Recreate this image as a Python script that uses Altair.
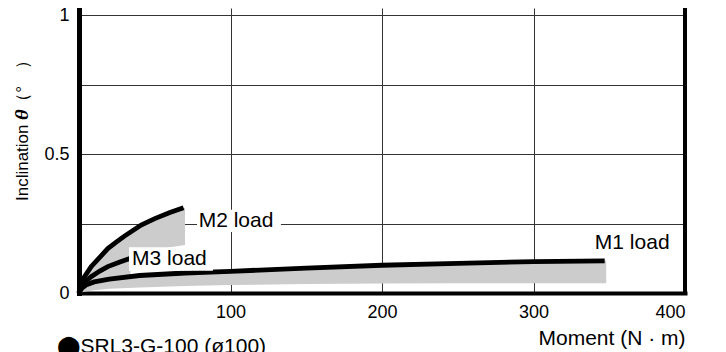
import altair as alt
import pandas as pd

# ---- data ----
m1_x = [0, 2, 5, 10, 20, 40, 70, 100, 150, 200, 250, 300, 347]
m1_y = [0, 0.018, 0.030, 0.040, 0.050, 0.063, 0.072, 0.078, 0.090, 0.100, 0.107, 0.113, 0.116]

m2_x = [0, 1, 3, 8, 14, 19, 25, 30, 41, 50, 60, 69]
m2_y = [0, 0.030, 0.053, 0.095, 0.130, 0.160, 0.185, 0.205, 0.245, 0.268, 0.290, 0.307]

m3_x = [0, 1, 3, 8, 14, 19, 27, 34]
m3_y = [0, 0.020, 0.035, 0.059, 0.080, 0.095, 0.112, 0.125]

band1_x = [0, 5, 10, 20, 40, 70, 100, 150, 200, 250, 300, 348]
band1_hi = [0, 0.030, 0.040, 0.050, 0.063, 0.072, 0.078, 0.090, 0.100, 0.107, 0.113, 0.116]
band1_lo = [0, 0.006, 0.010, 0.015, 0.020, 0.025, 0.029, 0.032, 0.034, 0.035, 0.035, 0.035]

band2_x = [0, 3, 8, 19, 30, 41, 55, 70]
band2_hi = [0, 0.053, 0.095, 0.160, 0.205, 0.245, 0.280, 0.307]
band2_lo = [0, 0.030, 0.055, 0.090, 0.115, 0.140, 0.160, 0.173]

band3_x = [0, 3, 8, 19, 27, 34]
band3_hi = [0, 0.035, 0.059, 0.095, 0.112, 0.125]
band3_lo = [0, 0.020, 0.030, 0.045, 0.052, 0.058]

label_text = ["M1 load", "M2 load", "M3 load"]
label_x = [340.5, 79.0, 35.0]
label_y = [0.180, 0.259, 0.124]
box_x0 = [None, 77.9, 33.0]
box_x1 = [None, 133.3, 88.4]
box_y0 = [None, 0.220, 0.080]
box_y1 = [None, 0.300, 0.165]

x_ticks = [100, 200, 300, 400]
y_ticks = [0, 0.25, 0.5, 0.75, 1]

x_title = "Moment (N · m)"
y_title = "Inclination 𝜽（°　）"
caption = "⬤SRL3-G-100 (ø100)"

# ---- tables ----
lines = pd.concat([
    pd.DataFrame({"series": "M1", "x": m1_x, "y": m1_y}),
    pd.DataFrame({"series": "M2", "x": m2_x, "y": m2_y}),
    pd.DataFrame({"series": "M3", "x": m3_x, "y": m3_y}),
])
bands = pd.concat([
    pd.DataFrame({"series": "M1", "x": band1_x, "lo": band1_lo, "hi": band1_hi}),
    pd.DataFrame({"series": "M2", "x": band2_x, "lo": band2_lo, "hi": band2_hi}),
    pd.DataFrame({"series": "M3", "x": band3_x, "lo": band3_lo, "hi": band3_hi}),
])
labels = pd.DataFrame({"text": label_text, "x": label_x, "y": label_y,
                       "x0": box_x0, "x1": box_x1, "y0": box_y0, "y1": box_y1})
boxes = labels.dropna()

W, H = 606, 285
FONT = "Liberation Sans"

xscale = alt.Scale(domain=[0, 400], nice=False, zero=True)
yscale = alt.Scale(domain=[0, 1.027], nice=False, zero=True)

xaxis = alt.Axis(values=x_ticks, grid=True, gridColor="#333333", gridWidth=1,
                 domainWidth=4, domainColor="black", domainCap="square",
                 ticks=False, tickSize=0, labelFontSize=18, labelPadding=10,
                 labelColor="black", labelFont=FONT, format="d",
                 title=x_title, titleFont=FONT, titleFontSize=21, titleFontWeight="normal",
                 titleColor="black", titleX=W, titleY=45, titleAlign="right",
                 titleBaseline="middle")
yaxis = alt.Axis(values=y_ticks, grid=True, gridColor="#333333", gridWidth=1,
                 domainWidth=5, domainColor="black", domainCap="square",
                 ticks=False, tickSize=0, labelFontSize=18, labelPadding=10,
                 labelColor="black", labelFont=FONT,
                 labelExpr="datum.value == 0 ? '0' : datum.value == 0.5 ? '0.5' : datum.value == 1 ? '1' : ''",
                 title=y_title, titleFont="Liberation Sans, DejaVu Sans", titleFontSize=17,
                 titleFontWeight="normal",
                 titleColor="black", titleX=-57, titleY=118, titleAngle=270,
                 titleAlign="center", titleBaseline="middle")

area = alt.Chart(bands).mark_area(color="#cccccc", opacity=1).encode(
    x=alt.X("x:Q", scale=xscale, axis=xaxis),
    y=alt.Y("lo:Q", scale=yscale, axis=yaxis),
    y2="hi:Q",
    detail="series:N",
)
line = alt.Chart(lines).mark_line(color="black", strokeWidth=4.8).encode(
    x=alt.X("x:Q", scale=xscale, axis=xaxis),
    y=alt.Y("y:Q", scale=yscale, axis=yaxis),
    detail="series:N",
)
box = alt.Chart(boxes).mark_rect(color="white").encode(
    x=alt.X("x0:Q", scale=xscale, axis=xaxis), x2="x1:Q",
    y=alt.Y("y0:Q", scale=yscale, axis=yaxis), y2="y1:Q",
)
text = alt.Chart(labels).mark_text(align="left", baseline="middle", font=FONT,
                                   fontSize=21, color="black").encode(
    x=alt.X("x:Q", scale=xscale, axis=xaxis),
    y=alt.Y("y:Q", scale=yscale, axis=yaxis),
    text="text:N",
)
border = alt.Chart(lines).mark_rule(color="black", strokeWidth=4).encode(
    x=alt.datum(400, scale=xscale, axis=xaxis)
)

chart = alt.layer(area, line, box, text, border).properties(
    width=W, height=H,
    autosize=alt.AutoSizeParams(type="none"),
    padding={"left": 71, "top": 0, "right": 33, "bottom": 59},
    title=alt.TitleParams(caption, orient="bottom", anchor="start", frame="group",
                          font="Liberation Sans, DejaVu Sans", fontSize=21,
                          fontWeight="normal", color="black",
                          dx=-22, dy=-12, offset=0),
).configure_view(stroke=None)

chart.save("out.html", embed_options={"renderer": "svg", "actions": False})
